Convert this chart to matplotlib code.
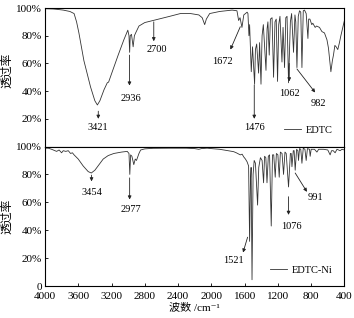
import matplotlib
matplotlib.use("Agg")
import matplotlib.pyplot as plt

plt.rcParams['font.family'] = ['Liberation Serif', 'Noto Sans CJK SC', 'DejaVu Serif']
plt.rcParams['axes.linewidth'] = 0.8

# EDTC spectrum (wavenumber cm-1, transmittance %)
edtc_wn = [4000, 3900, 3850, 3780, 3700, 3650, 3620, 3592, 3532, 3452, 3400, 3370, 3340,
           3290, 3251, 3235, 3191, 3120, 3052, 3004, 2990, 2982, 2975, 2960, 2940, 2925,
           2910, 2870, 2800, 2700, 2600, 2500, 2372, 2250, 2150, 2110, 2080, 2060, 2020,
           1900, 1750, 1692, 1672, 1655, 1632, 1610, 1570, 1560, 1548, 1540, 1520, 1505,
           1480, 1470, 1455, 1432, 1420, 1403, 1390, 1375, 1343, 1330, 1320, 1304, 1290,
           1270, 1252, 1235, 1220, 1204, 1190, 1175, 1151, 1138, 1120, 1105, 1090, 1072,
           1050, 1035, 1012, 995, 985, 971, 955, 940, 925, 911, 895, 880, 860, 839, 830,
           815, 793, 780, 752, 735, 700, 671, 640, 610, 592, 563, 545, 532, 515, 500,
           480, 460, 443, 412, 400]
edtc_t = [99.5, 99.3, 99, 98.5, 97.5, 96, 90, 82, 62, 43, 33, 30, 33,
          41, 46, 46.5, 54, 66, 77, 84, 80, 68, 80, 81, 72, 80,
          82, 87, 89.5, 91, 92.5, 94, 96, 96, 95, 93, 88, 92, 96,
          97.5, 98.5, 98, 91, 93, 86, 95, 97, 96, 80, 88, 54, 72,
          45, 70, 74, 53, 75, 45, 80, 88, 55, 85, 90, 66, 92,
          93, 50, 90, 92, 47, 88, 94, 61, 86, 57, 93, 94, 46,
          90, 96, 68, 95, 90, 57, 94, 98, 97, 57, 98, 98.5, 96, 78, 92,
          92, 88, 89, 86, 87, 86, 83, 82, 77, 71, 54, 62, 66, 73, 72,
          70, 75, 80, 88, 91]

# EDTC-Ni spectrum
ni_wn = [4000, 3960, 3920, 3880, 3860, 3830, 3800, 3780, 3750, 3720, 3692, 3670, 3650,
         3600, 3540, 3480, 3443, 3400, 3350, 3300, 3240, 3172, 3080, 3011, 2990, 2980,
         2970, 2955, 2932, 2915, 2900, 2870, 2850, 2800, 2700, 2500, 2300, 2200, 2150,
         2120, 2050, 2000, 1900, 1800, 1732, 1700, 1652, 1630, 1610, 1590, 1570, 1552,
         1540, 1530, 1522, 1511, 1498, 1485, 1470, 1444, 1430, 1410, 1390, 1372, 1360,
         1345, 1331, 1315, 1300, 1280, 1265, 1250, 1232, 1218, 1200, 1184, 1170, 1150,
         1132, 1115, 1100, 1072, 1050, 1040, 1031, 1015, 1005, 992, 975, 960, 952, 940,
         925, 911, 895, 875, 860, 845, 820, 812, 800, 760, 731, 710, 650, 600, 572, 555,
         535, 512, 490, 470, 452, 430, 400]
ni_t = [98.8, 98.8, 98, 97, 96.5, 97.5, 95.5, 97, 96.5, 97, 95, 95.5, 94,
        91, 86, 82, 81, 83, 87, 91, 93.5, 95, 96, 96.5, 95, 80,
        94, 93, 87, 91, 90, 95, 97.5, 98.3, 98.7, 98.8, 98.8, 98.5, 98,
        98.5, 98.8, 98.5, 98, 97, 96.3, 95.5, 94, 94.5, 92.5, 91, 89, 86,
        32, 75, 85, 4.5, 80, 90, 88, 58, 85, 92, 90, 74, 93,
        92, 74, 93, 94, 43, 94, 94, 78, 95, 94, 78, 96, 95,
        80, 96, 95, 71, 95, 95, 85.5, 97, 97, 83, 98, 97, 90, 98.5,
        98, 88, 98.8, 98, 90, 98.5, 98, 93, 98, 98, 96, 98, 98, 97.5, 94, 97,
        97, 95.5, 98, 97.5, 97, 98, 97.5]

xticks = [4000, 3600, 3200, 2800, 2400, 2000, 1600, 1200, 800, 400]

# peak labels: (text, text x, text y, arrow tail, arrow head)
edtc_marks = [
    ("3421", 3359, 13.5, (3359, 25.5), (3359, 20)),
    ("2936", 2972, 35, (2984, 66), (2984, 44)),
    ("2700", 2651, 70, (2692, 90), (2692, 76)),
    ("1672", 1871, 61.5, (1652, 86.5), (1771, 70)),
    ("1476", 1480, 13.5, (1484, 44.5), (1484, 20)),
    ("1062", 1060, 38.5, (1064, 60), (1064, 47)),
    ("982", 712, 31, (971, 56), (752, 39)),
]
ni_marks = [
    ("3454", 3440, 67, (3440, 79.5), (3440, 75)),
    ("2977", 2972, 55, (2982, 77.5), (2982, 62)),
    ("1521", 1732, 18.5, (1564, 35), (1619, 24)),
    ("1076", 1031, 43, (1072, 64), (1072, 51)),
    ("991", 752, 63.5, (992, 81), (851, 67.5)),
]

fig = plt.figure(figsize=(3.54, 3.18), dpi=100)
ax1 = fig.add_axes([0.127, 0.5393, 0.846, 0.4355])
ax2 = fig.add_axes([0.127, 0.1006, 0.846, 0.4387])

ax1.plot(edtc_wn, edtc_t, color='#333333', lw=0.6, label='EDTC')
ax2.plot(ni_wn, ni_t, color='#333333', lw=0.6, label='EDTC-Ni')

for ax, marks in ((ax1, edtc_marks), (ax2, ni_marks)):
    ax.set_xlim(4000, 400)
    ax.set_ylim(0, 100)
    ax.set_xticks(xticks)
    for txt, tx, ty, tail, head in marks:
        ax.annotate('', xy=head, xytext=tail,
                    arrowprops=dict(arrowstyle='-|>', lw=0.6, color='#222222',
                                    mutation_scale=5, shrinkA=0, shrinkB=0))
        ax.text(tx, ty, txt, fontsize=7.5, ha='center', va='center')
    ax.set_ylabel('透过率', fontsize=8.5, labelpad=2)
    ax.tick_params(direction='in', length=2.5, width=0.6, labelsize=8, pad=2)
    ax.legend(loc='lower right', frameon=False, fontsize=7.5, handlelength=1.6,
              handletextpad=0.5, borderaxespad=0.7)

ax1.set_yticks([20, 40, 60, 80, 100])
ax1.set_yticklabels(['20%', '40%', '60%', '80%', '100%'])
ax1.tick_params(axis='x', length=0, labelbottom=False)
ax1.yaxis.set_label_coords(-0.105, 0.55)
ax2.set_yticks([0, 20, 40, 60, 80, 100])
ax2.set_yticklabels(['0', '20%', '40%', '60%', '80%', '100%'])
ax2.tick_params(axis='x', pad=4)
ax2.yaxis.set_label_coords(-0.105, 0.5)
ax2.set_xlabel('波数 /cm⁻¹', fontsize=8, labelpad=1)

fig.savefig('out.png', dpi=100)
